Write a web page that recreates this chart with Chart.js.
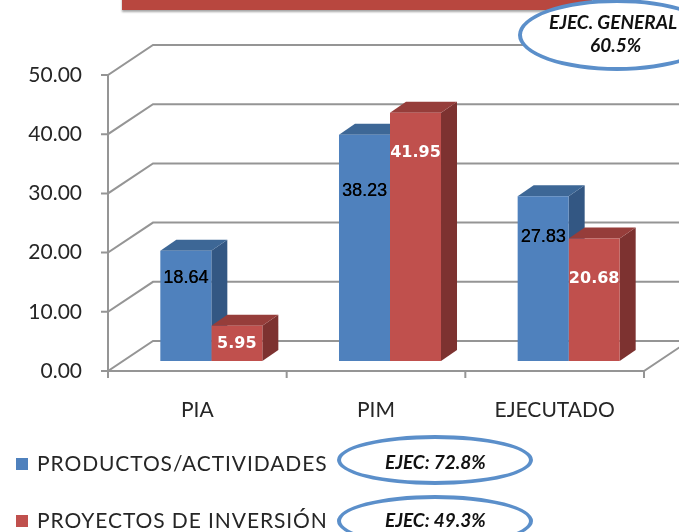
<!DOCTYPE html>
<html>
<head>
<meta charset="utf-8">
<script src="https://cdn.jsdelivr.net/npm/chart.js@4.4.1/dist/chart.umd.min.js"></script>
<style>
  body { margin: 0; background: #fff; }
  #wrap { position: relative; width: 679px; height: 532px; overflow: hidden; font-family: Lato, "DejaVu Sans", sans-serif; }
  #myChart { position: absolute; left: 0; top: 0; }
  .titlebox { position: absolute; left: 122px; top: -20px; width: 470px; height: 30px; background: #b8473f;
    box-shadow: 0 2px 2px rgba(0,0,0,0.35); }
  .oval { position: absolute; box-sizing: border-box; border: 4px solid #5b8fca; border-radius: 50%; background: #fff; }
  .ovtxt { position: absolute; font-weight: bold; font-style: italic; font-size: 19px; color: #111; white-space: nowrap; line-height: 1; }
  .leg { position: absolute; left: 16px; font-size: 21px; letter-spacing: 0.9px; color: #262626; white-space: nowrap; line-height: 1; }
  .leg i { display: inline-block; width: 12px; height: 12px; margin-right: 9px; vertical-align: 1px; }
</style>
</head>
<body>
<div id="wrap">
  <canvas id="myChart" width="679" height="532"></canvas>
  <div class="titlebox"></div>
  <div class="oval" style="left:518px;top:-1px;width:198px;height:72px"></div>
  <div class="ovtxt" id="genTitle" style="left:549px;top:12px"></div>
  <div class="ovtxt" id="genValue" style="left:590px;top:35px"></div>
  <div class="oval" style="left:337px;top:435px;width:196px;height:50px"></div>
  <div class="oval" style="left:337px;top:495px;width:196px;height:52px"></div>
  <div class="ovtxt" id="ejec0" style="left:385px;top:452px"></div>
  <div class="ovtxt" id="ejec1" style="left:385px;top:510px"></div>
  <div class="leg" id="leg0" style="top:452px"></div>
  <div class="leg" id="leg1" style="top:509px"></div>
</div>
<script>
const categories = ['PIA', 'PIM', 'EJECUTADO']
const productos = [18.64, 38.23, 27.83]
const proyectos = [5.95, 41.95, 20.68]
const seriesNames = ['PRODUCTOS/ACTIVIDADES', 'PROYECTOS DE INVERSIÓN']
const seriesEjec = ['72.8%', '49.3%']
const generalEjec = '60.5%'

const colors = ['#4f81bd', '#c0504d']
const topColors = ['#3d6796', '#963d3a']
const sideColors = ['#335783', '#7d3230']

// offsets of the 3d frame, measured from the plane the bars stand on
const FX = 14, FY = 10      // front edge
const BX = 31, BY = 20      // back wall
const DEPTH_X = 16, DEPTH_Y = 11  // depth of a bar

const frame3d = {
    id: 'frame3d',
    beforeDatasetsDraw(chart) {
        const {ctx, chartArea: a, scales: {x, y}} = chart
        ctx.save()
        ctx.strokeStyle = '#959595'
        ctx.lineWidth = 2
        const fl = a.left - FX, fr = a.right - FX, bl = a.left + BX, br = a.right + BX
        y.ticks.forEach(t => {
            const py = y.getPixelForValue(t.value)
            ctx.beginPath()
            ctx.moveTo(fl - 7, py + FY)
            ctx.lineTo(fl, py + FY)
            ctx.lineTo(bl, py - BY)
            ctx.lineTo(br, py - BY)
            ctx.stroke()
        })
        const y0 = y.getPixelForValue(0)
        // front axis and floor
        ctx.beginPath()
        ctx.moveTo(fl, y.getPixelForValue(y.max) + FY)
        ctx.lineTo(fl, y0 + FY)
        ctx.lineTo(fr, y0 + FY)
        ctx.lineTo(br, y0 - BY)
        ctx.stroke()
        // category ticks
        const step = a.width / categories.length
        for (let i = 0; i <= categories.length; i++) {
            const px = a.left + i * step - FX
            ctx.beginPath()
            ctx.moveTo(px, y0 + FY)
            ctx.lineTo(px, y0 + FY + 7)
            ctx.stroke()
        }
        // top and side faces of the bars (fronts are drawn by chart.js on top)
        for (let j = 0; j < categories.length; j++) {
            chart.data.datasets.forEach((ds, i) => {
                const bar = chart.getDatasetMeta(i).data[j]
                const l = bar.x - bar.width / 2, r = bar.x + bar.width / 2
                ctx.fillStyle = sideColors[i]
                ctx.beginPath()
                ctx.moveTo(r, bar.y)
                ctx.lineTo(r + DEPTH_X, bar.y - DEPTH_Y)
                ctx.lineTo(r + DEPTH_X, bar.base - DEPTH_Y)
                ctx.lineTo(r, bar.base)
                ctx.closePath()
                ctx.fill()
                ctx.fillStyle = topColors[i]
                ctx.beginPath()
                ctx.moveTo(l, bar.y)
                ctx.lineTo(r, bar.y)
                ctx.lineTo(r + DEPTH_X, bar.y - DEPTH_Y)
                ctx.lineTo(l + DEPTH_X, bar.y - DEPTH_Y)
                ctx.closePath()
                ctx.fill()
            })
        }
        ctx.restore()
    },
    afterDatasetsDraw(chart) {
        const {ctx} = chart
        ctx.save()
        ctx.textAlign = 'center'
        ctx.textBaseline = 'middle'
        chart.data.datasets.forEach((ds, i) => {
            chart.getDatasetMeta(i).data.forEach((bar, j) => {
                const h = bar.base - bar.y
                let ly
                if (i === 0) {
                    // blue labels sit about a quarter down the bar
                    ctx.font = '18px "Liberation Sans", Arial, sans-serif'
                    ctx.fillStyle = '#000'
                    ly = bar.base - h * 0.75
                    ctx.fillText(ds.data[j].toFixed(2), bar.x + 0.3, ly)
                } else {
                    ctx.font = 'bold 16px "DejaVu Sans", Verdana, sans-serif'
                    ctx.fillStyle = '#fff'
                    ly = h < 80 ? bar.y + h / 2 : bar.y + 40
                }
                ctx.fillText(ds.data[j].toFixed(2), bar.x, ly)
            })
        })
        ctx.restore()
    }
}

new Chart(document.getElementById('myChart'), {
    type: 'bar',
    data: {
        labels: categories,
        datasets: [
            {label: seriesNames[0], data: productos, backgroundColor: colors[0]},
            {label: seriesNames[1], data: proyectos, backgroundColor: colors[1]}
        ]
    },
    options: {
        responsive: false,
        animation: false,
        layout: {padding: {left: 0, right: 21, top: 65, bottom: 111}},
        datasets: {bar: {categoryPercentage: 0.571, barPercentage: 1.0}},
        scales: {
            x: {
                grid: {display: false, drawTicks: false},
                border: {display: false},
                ticks: {color: '#262626', font: {family: 'Lato', size: 21}, padding: 37, labelOffset: -FX},
                afterFit(scale) { scale.height = 60 }
            },
            y: {
                min: 0, max: 50,
                grid: {display: false, drawTicks: false},
                border: {display: false},
                ticks: {
                    stepSize: 10, color: '#262626', font: {family: 'Lato', size: 21}, padding: 40, labelOffset: FY,
                    callback: v => v.toFixed(2)
                },
                afterFit(scale) { scale.width = 122 }
            }
        },
        plugins: {
            legend: {display: false},
            tooltip: {enabled: false}
        }
    },
    plugins: [frame3d]
})

document.getElementById('genTitle').textContent = 'EJEC. GENERAL'
document.getElementById('genValue').textContent = generalEjec
seriesEjec.forEach((v, i) => {
    document.getElementById('ejec' + i).textContent = 'EJEC: ' + v
})
seriesNames.forEach((n, i) => {
    const el = document.getElementById('leg' + i)
    el.innerHTML = `<i style="background:${colors[i]}"></i>`
    el.appendChild(document.createTextNode(n))
})
</script>
</body>
</html>
